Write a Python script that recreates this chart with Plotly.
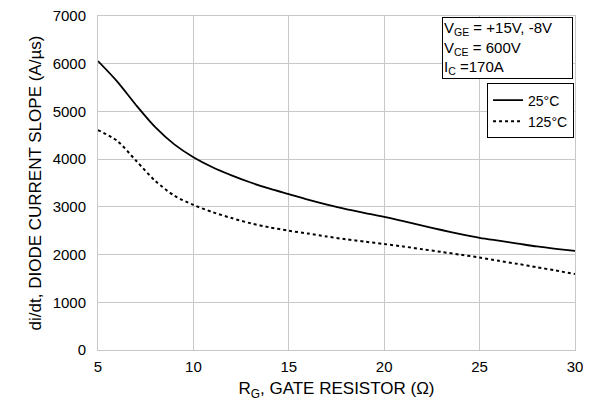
import plotly.graph_objects as go

rg = [5, 6, 7, 8, 9, 10, 11, 12, 13, 14, 15, 16, 17, 18, 19, 20, 21, 22, 23, 24, 25, 26, 27, 28, 29, 30]
di_25 = [6056, 5630, 5130, 4670, 4310, 4040, 3830, 3660, 3510, 3380, 3265, 3150, 3045, 2950, 2870, 2790,
         2700, 2605, 2515, 2430, 2352, 2290, 2230, 2170, 2120, 2076]
di_125 = [4610, 4385, 3965, 3545, 3235, 3040, 2890, 2765, 2655, 2570, 2500, 2440, 2378, 2320, 2270, 2221,
          2170, 2112, 2055, 1998, 1938, 1870, 1805, 1735, 1665, 1593]

x_ticks = [5, 10, 15, 20, 25, 30]
y_ticks = [0, 1000, 2000, 3000, 4000, 5000, 6000, 7000]

font = "Liberation Sans, Arial, sans-serif"

fig = go.Figure()
fig.add_trace(go.Scatter(x=rg, y=di_25, mode="lines", name="25°C",
                         line=dict(color="black", width=1.8, shape="spline", smoothing=0.8)))
fig.add_trace(go.Scatter(x=rg, y=di_125, mode="lines", name="125°C",
                         line=dict(color="black", width=2, dash="dot", shape="spline", smoothing=0.8)))

fig.update_layout(
    width=583, height=395,
    margin=dict(l=90, r=16, t=8, b=51),
    paper_bgcolor="white", plot_bgcolor="white",
    font=dict(family=font, size=14, color="black"),
    showlegend=True,
    legend=dict(x=0.998, y=0.798, xanchor="right", yanchor="top",
                bgcolor="white", bordercolor="black", borderwidth=1,
                font=dict(size=14), tracegroupgap=0, itemwidth=30),
    annotations=[dict(
        text="V<sub>GE</sub> = +15V, -8V<br>V<sub>CE</sub> = 600V<br>I<sub>C</sub> =170A",
        xref="paper", yref="paper", x=0.996, y=0.996, xanchor="right", yanchor="top",
        showarrow=False, align="left", width=127, bgcolor="white", bordercolor="black", borderwidth=1,
        borderpad=1, font=dict(size=15))],
)
fig.update_xaxes(range=[5, 30], tickvals=x_ticks, showgrid=True, gridcolor="#c8c8c8",
                 showline=True, linecolor="#c8c8c8", mirror=True, zeroline=False,
                 ticks="", ticklabelstandoff=3, tickfont=dict(size=15), automargin="bottom",
                 ticklabeloverflow="allow",
                 title=dict(text="R<sub>G</sub>, GATE RESISTOR (Ω)", standoff=8))
fig.update_yaxes(range=[0, 7000], tickvals=y_ticks, showgrid=True, gridcolor="#c8c8c8",
                 showline=True, linecolor="#c8c8c8", mirror=True, zeroline=False,
                 ticks="", ticklabelstandoff=8, tickfont=dict(size=15), automargin="left",
                 ticklabeloverflow="allow",
                 title=dict(text="di/dt, DIODE CURRENT SLOPE (A/µs)", standoff=6))

fig.write_html("out.html")
